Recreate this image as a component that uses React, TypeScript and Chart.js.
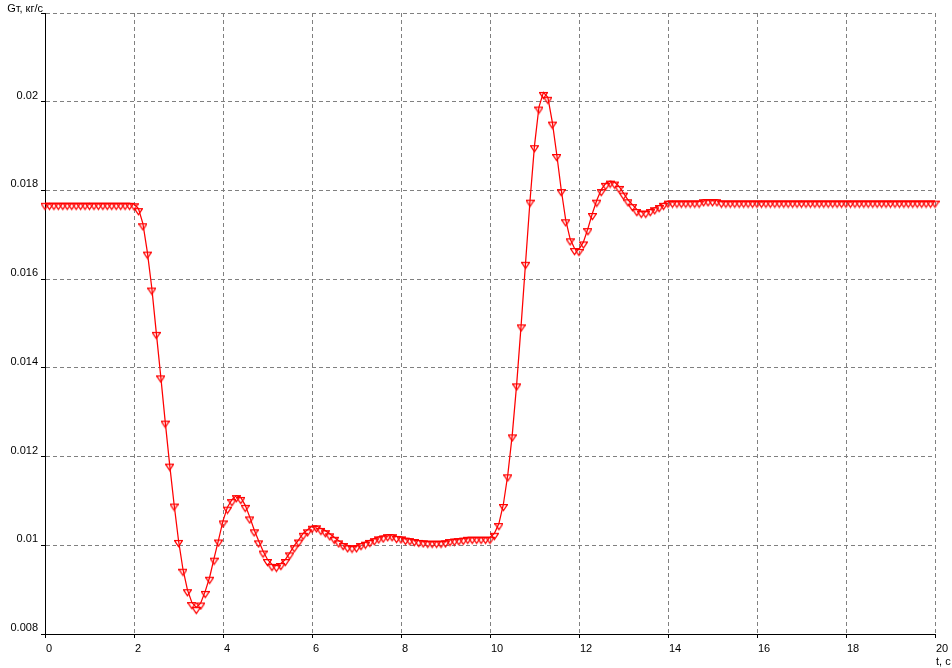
import React, { useEffect, useRef } from 'react';
import { Chart, registerables } from 'chart.js';

Chart.register(...registerables);

// Sampling step of the recorded signal, seconds
const sampleStep = 0.1;

// Fuel flow Gт, kg/s, sampled every 0.1 s from t = 0 to t = 20 s
const flowValues = [
  // 0.0 - 1.9
  0.01771, 0.01771, 0.01771, 0.01771, 0.01771, 0.01771, 0.01771, 0.01771, 0.01771, 0.01771,
  0.01771, 0.01771, 0.01771, 0.01771, 0.01771, 0.01771, 0.01771, 0.01771, 0.01771, 0.01771,
  // 2.0 - 2.9
  0.01770, 0.01759, 0.01725, 0.01661, 0.01580, 0.01480, 0.01382, 0.01280, 0.01183, 0.01093,
  // 3.0 - 3.9
  0.01011, 0.00946, 0.00900, 0.00871, 0.00860, 0.00870, 0.00896, 0.00928, 0.00971, 0.01012,
  // 4.0 - 4.9
  0.01055, 0.01086, 0.01103, 0.01112, 0.01108, 0.01090, 0.01064, 0.01035, 0.01010, 0.00987,
  // 5.0 - 5.9
  0.00968, 0.00957, 0.00955, 0.00959, 0.00968, 0.00983, 0.00999, 0.01012, 0.01027, 0.01035,
  // 6.0 - 6.9
  0.01043, 0.01044, 0.01038, 0.01033, 0.01026, 0.01018, 0.01010, 0.01004, 0.00999, 0.00998,
  // 7.0 - 7.9
  0.00999, 0.01004, 0.01007, 0.01011, 0.01015, 0.01019, 0.01021, 0.01024, 0.01024, 0.01020,
  // 8.0 - 8.9
  0.01019, 0.01016, 0.01015, 0.01013, 0.01011, 0.01010, 0.01009, 0.01009, 0.01009, 0.01009,
  // 9.0 - 9.9
  0.01010, 0.01013, 0.01014, 0.01015, 0.01016, 0.01018, 0.01018, 0.01018, 0.01018, 0.01018,
  // 10.0 - 10.9
  0.01018, 0.01027, 0.01049, 0.01092, 0.01159, 0.01249, 0.01364, 0.01497, 0.01638, 0.01778,
  // 11.0 - 11.9
  0.01901, 0.01988, 0.02021, 0.02010, 0.01954, 0.01881, 0.01802, 0.01734, 0.01691, 0.01669,
  // 12.0 - 12.9
  0.01667, 0.01684, 0.01714, 0.01748, 0.01778, 0.01802, 0.01816, 0.01821, 0.01819, 0.01809,
  // 13.0 - 13.9
  0.01794, 0.01779, 0.01768, 0.01757, 0.01753, 0.01753, 0.01757, 0.01761, 0.01766, 0.01771,
  // 14.0 - 14.9
  0.01776, 0.01776, 0.01776, 0.01776, 0.01776, 0.01776, 0.01776, 0.01776, 0.01779, 0.01779,
  // 15.0 - 15.9
  0.01779, 0.01779, 0.01776, 0.01776, 0.01776, 0.01776, 0.01776, 0.01776, 0.01776, 0.01776,
  // 16.0 - 16.9
  0.01776, 0.01776, 0.01776, 0.01776, 0.01776, 0.01776, 0.01776, 0.01776, 0.01776, 0.01776,
  // 17.0 - 17.9
  0.01776, 0.01776, 0.01776, 0.01776, 0.01776, 0.01776, 0.01776, 0.01776, 0.01776, 0.01776,
  // 18.0 - 18.9
  0.01776, 0.01776, 0.01776, 0.01776, 0.01776, 0.01776, 0.01776, 0.01776, 0.01776, 0.01776,
  // 19.0 - 19.9
  0.01776, 0.01776, 0.01776, 0.01776, 0.01776, 0.01776, 0.01776, 0.01776, 0.01776, 0.01776,
  // 20.0
  0.01776,
];

const timeValues = flowValues.map((_, i) => Math.round(i * sampleStep * 10) / 10);

const xTicks = [0, 2, 4, 6, 8, 10, 12, 14, 16, 18, 20];
const xTickLabels = ['0', '2', '4', '6', '8', '10', '12', '14', '16', '18', '20'];
const yTicks = [0.008, 0.01, 0.012, 0.014, 0.016, 0.018, 0.02, 0.022];
const yTickLabels = ['0.008', '0.01', '0.012', '0.014', '0.016', '0.018', '0.02', ''];

const yAxisTitle = 'Gт, кг/с';
const xAxisTitle = 't, c';

const FONT_FAMILY = '"Liberation Sans", Arial, sans-serif';

function makeMarker(): HTMLCanvasElement {
  const c = document.createElement('canvas');
  c.width = 9;
  c.height = 15;
  const ctx = c.getContext('2d')!;
  ctx.strokeStyle = '#ff0000';
  ctx.lineWidth = 1.25;
  ctx.beginPath();
  ctx.moveTo(0.5, 7.5);
  ctx.lineTo(8.5, 7.5);
  ctx.lineTo(4.5, 13.5);
  ctx.closePath();
  ctx.stroke();
  return c;
}

const axisTitlesPlugin = {
  id: 'axisTitles',
  afterDraw(chart: any) {
    const { ctx } = chart;
    const x = chart.scales.x;
    const y = chart.scales.y;
    ctx.save();
    ctx.font = `11px ${FONT_FAMILY}`;
    ctx.fillStyle = '#000';
    ctx.textBaseline = 'alphabetic';
    ctx.textAlign = 'right';
    ctx.fillText(yAxisTitle, y.right - 2, y.getPixelForValue(yTicks[yTicks.length - 1]) - 1.5);
    ctx.textAlign = 'left';
    ctx.fillText(xAxisTitle, x.getPixelForValue(xTicks[xTicks.length - 1]) + 1, x.bottom - 3);
    ctx.restore();
  },
};

export default function App() {
  const canvasRef = useRef<HTMLCanvasElement | null>(null);

  useEffect(() => {
    document.body.style.margin = '0';
    document.body.style.background = '#ffffff';
    const canvas = canvasRef.current;
    if (!canvas) return;

    Chart.defaults.font.family = FONT_FAMILY;
    Chart.defaults.font.size = 11;
    Chart.defaults.color = '#000';

    const marker = makeMarker();

    const chart = new Chart(canvas, {
      type: 'line',
      data: {
        datasets: [
          {
            data: flowValues.map((v, i) => ({ x: timeValues[i], y: v })),
            borderColor: '#ff0000',
            borderWidth: 1.25,
            backgroundColor: '#ff0000',
            pointStyle: marker as any,
            pointRadius: 3,
            pointHoverRadius: 3,
            tension: 0,
            fill: false,
            clip: 10 as any,
          },
        ],
      },
      options: {
        responsive: false,
        animation: false,
        events: [],
        layout: { padding: { left: 0, top: 13, right: 17, bottom: 0 } },
        plugins: {
          legend: { display: false },
          tooltip: { enabled: false },
          title: { display: false },
        },
        scales: {
          x: {
            type: 'linear',
            min: 0,
            max: 20,
            afterBuildTicks: (s: any) => {
              s.ticks = xTicks.map((v) => ({ value: v }));
            },
            afterFit: (s: any) => {
              s.height = 34;
            },
            ticks: {
              callback: (_v: any, i: number) => xTickLabels[i],
              align: 'start',
              labelOffset: 1,
              padding: 4,
              maxRotation: 0,
              minRotation: 0,
              autoSkip: false,
              color: '#000',
              font: { family: FONT_FAMILY, size: 11 },
            },
            grid: {
              color: '#808080',
              lineWidth: 1,
              tickLength: 4,
              tickColor: '#000',
              tickWidth: 1,
              tickBorderDash: [],
            },
            border: { display: true, color: '#000', width: 1, dash: [4, 3] },
          },
          y: {
            type: 'linear',
            min: 0.008,
            max: 0.022,
            afterBuildTicks: (s: any) => {
              s.ticks = yTicks.map((v) => ({ value: v }));
            },
            afterFit: (s: any) => {
              s.width = 45;
            },
            ticks: {
              callback: (_v: any, i: number) => yTickLabels[i],
              labelOffset: -6,
              padding: 3,
              autoSkip: false,
              color: '#000',
              font: { family: FONT_FAMILY, size: 11 },
            },
            grid: {
              color: '#808080',
              lineWidth: 1,
              tickLength: 4,
              tickColor: '#000',
              tickWidth: 1,
              tickBorderDash: [],
            },
            border: { display: true, color: '#000', width: 1, dash: [4, 3] },
          },
        },
      } as any,
      plugins: [axisTitlesPlugin],
    });

    return () => {
      chart.destroy();
    };
  }, []);

  return (
    <div style={{ position: 'absolute', left: 0, top: 0, width: 952, height: 668, background: '#fff' }}>
      <canvas ref={canvasRef} width={952} height={668} style={{ display: 'block' }} />
    </div>
  );
}
